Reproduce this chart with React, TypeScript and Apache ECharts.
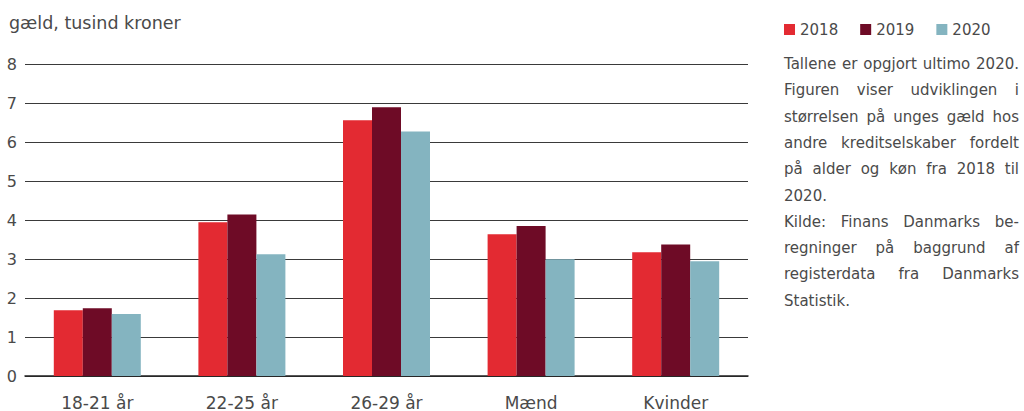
import React, { useEffect, useRef } from "react";
import * as echarts from "echarts";

const categories = ["18-21 år", "22-25 år", "26-29 år", "Mænd", "Kvinder"];
const seriesNames = ["2018", "2019", "2020"];
const values2018 = [1.69, 3.95, 6.57, 3.64, 3.18];
const values2019 = [1.74, 4.15, 6.9, 3.85, 3.38];
const values2020 = [1.59, 3.13, 6.28, 3.0, 2.95];
const colors = ["#E32A32", "#6E0B26", "#84B4C0"];
const yTicks = [0, 1, 2, 3, 4, 5, 6, 7, 8];
const yTitle = "gæld, tusind kroner";
const noteParagraphs = [
  [
    "Tallene er opgjort ultimo 2020.",
    "Figuren viser udviklingen i",
    "størrelsen på unges gæld hos",
    "andre kreditselskaber fordelt",
    "på alder og køn fra 2018 til",
    "2020.",
  ],
  [
    "Kilde: Finans Danmarks be-",
    "regninger på baggrund af",
    "registerdata fra Danmarks",
    "Statistik.",
  ],
];

const FONT = "'DejaVu Sans', sans-serif";
const TEXT_COLOR = "#4a4a4a";

function buildNoteGraphics() {
  const left = 784;
  const right = 1019;
  const W = right - left;
  const fontSize = 15;
  const top = 64;
  const lineH = 26.3;
  const canvas = document.createElement("canvas");
  const ctx = canvas.getContext("2d")!;
  ctx.font = `${fontSize}px "DejaVu Sans"`;
  const space = ctx.measureText(" ").width;
  const els: any[] = [];
  let row = 0;
  noteParagraphs.forEach((para) => {
    para.forEach((line, i) => {
      const words = line.split(" ");
      const widths = words.map((w) => ctx.measureText(w).width);
      const sum = widths.reduce((a, b) => a + b, 0);
      const isLast = i === para.length - 1;
      let gap = space;
      if (!isLast && words.length > 1) gap = Math.max(2, (W - sum) / (words.length - 1));
      let x = left;
      const y = top + row * lineH;
      words.forEach((w, k) => {
        els.push({
          type: "text",
          x,
          y,
          style: {
            text: w,
            fontSize,
            fontFamily: FONT,
            fill: TEXT_COLOR,
            verticalAlign: "middle",
            textAlign: "left",
          },
        });
        x += widths[k] + gap;
      });
      row++;
    });
  });
  return els;
}

export default function App() {
  const ref = useRef<HTMLDivElement>(null);
  useEffect(() => {
    document.body.style.margin = "0";
    const chart = echarts.init(ref.current!, undefined, { renderer: "svg" });
    const seriesData = [values2018, values2019, values2020];
    chart.setOption({
      animation: false,
      textStyle: { fontFamily: FONT },
      grid: { left: 25, right: 276, top: 64.5, bottom: 35 },
      legend: {
        data: seriesNames,
        left: 779,
        top: 17,
        icon: "rect",
        itemWidth: 11,
        itemHeight: 11,
        itemGap: 22,
        textStyle: { fontSize: 15, color: TEXT_COLOR, fontFamily: FONT },
      },
      xAxis: {
        type: "category",
        data: categories,
        axisTick: { show: false },
        axisLine: { lineStyle: { color: "#222", width: 1.5 } },
        axisLabel: { fontSize: 17, color: TEXT_COLOR, margin: 18 },
      },
      yAxis: {
        type: "value",
        min: yTicks[0],
        max: yTicks[yTicks.length - 1],
        interval: 1,
        axisLine: { show: false },
        axisTick: { show: false },
        axisLabel: { fontSize: 16, color: TEXT_COLOR, margin: 8 },
        splitLine: { lineStyle: { color: "#3a3a3a", width: 1 } },
      },
      series: seriesNames.map((name, i) => ({
        name,
        type: "bar",
        data: seriesData[i],
        barWidth: 29,
        barGap: "0%",
        itemStyle: { color: colors[i] },
      })),
      graphic: [
        {
          type: "text",
          x: 9,
          y: 23,
          style: {
            text: yTitle,
            fontSize: 17.5,
            fontFamily: FONT,
            fill: TEXT_COLOR,
            verticalAlign: "middle",
          },
        },
        ...buildNoteGraphics(),
      ],
    });
    return () => chart.dispose();
  }, []);
  return <div ref={ref} style={{ width: 1024, height: 411 }} />;
}
